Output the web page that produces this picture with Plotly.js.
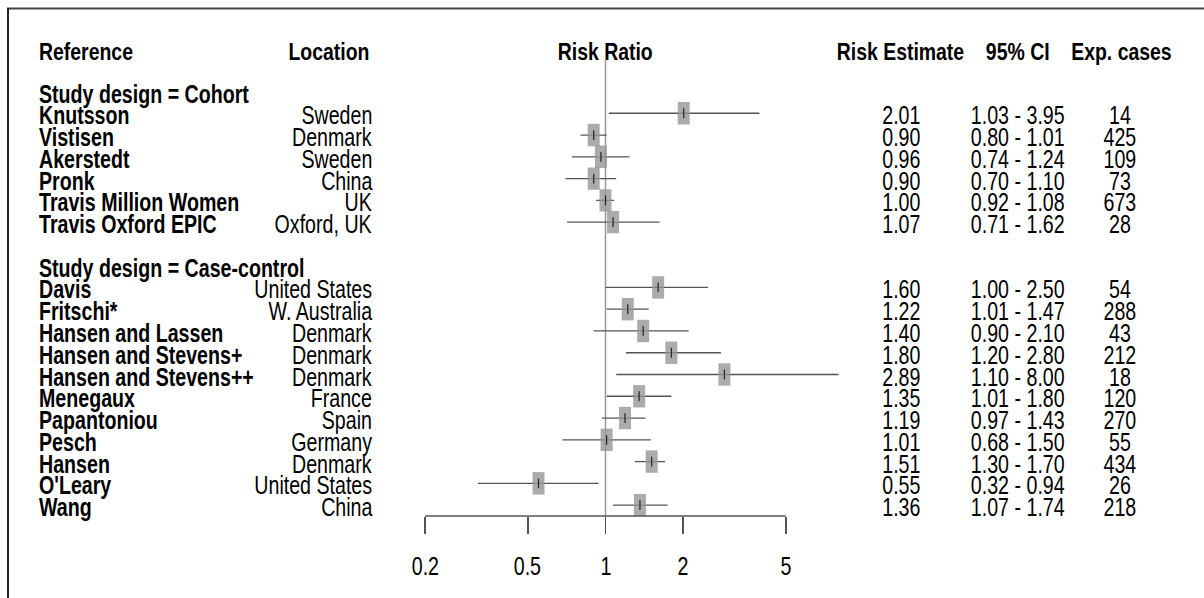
<!DOCTYPE html>
<html>
<head>
<meta charset="utf-8">
<script src="https://cdn.plot.ly/plotly-3.0.1.min.js"></script>
<style>
  html, body { margin: 0; padding: 0; background: #ffffff; }
  #chart { width: 1204px; height: 598px; }
</style>
</head>
<body>
<div id="chart"></div>
<script>
// ---------------- data ----------------
const groupNames = ["Cohort", "Case-control"];
const references = ["Knutsson", "Vistisen", "Akerstedt", "Pronk", "Travis Million Women", "Travis Oxford EPIC",
  "Davis", "Fritschi*", "Hansen and Lassen", "Hansen and Stevens+", "Hansen and Stevens++", "Menegaux",
  "Papantoniou", "Pesch", "Hansen", "O'Leary", "Wang"];
const designs = ["Cohort", "Cohort", "Cohort", "Cohort", "Cohort", "Cohort",
  "Case-control", "Case-control", "Case-control", "Case-control", "Case-control", "Case-control",
  "Case-control", "Case-control", "Case-control", "Case-control", "Case-control"];
const locations = ["Sweden", "Denmark", "Sweden", "China", "UK", "Oxford, UK",
  "United States", "W. Australia", "Denmark", "Denmark", "Denmark", "France",
  "Spain", "Germany", "Denmark", "United States", "China"];
const riskRatio = [2.01, 0.90, 0.96, 0.90, 1.00, 1.07, 1.60, 1.22, 1.40, 1.80, 2.89, 1.35, 1.19, 1.01, 1.51, 0.55, 1.36];
const ciLower   = [1.03, 0.80, 0.74, 0.70, 0.92, 0.71, 1.00, 1.01, 0.90, 1.20, 1.10, 1.01, 0.97, 0.68, 1.30, 0.32, 1.07];
const ciUpper   = [3.95, 1.01, 1.24, 1.10, 1.08, 1.62, 2.50, 1.47, 2.10, 2.80, 8.00, 1.80, 1.43, 1.50, 1.70, 0.94, 1.74];
const expCases  = [14, 425, 109, 73, 673, 28, 54, 288, 43, 212, 18, 120, 270, 55, 434, 26, 218];
const tickValues = [0.2, 0.5, 1, 2, 5];
const tickLabels = ["0.2", "0.5", "1", "2", "5"];
const columnHeaders = ["Reference", "Location", "Risk Ratio", "Risk Estimate", "95% CI", "Exp. cases"];

// ---------------- row layout ----------------
const W = 1204, H = 598;
const px = v => v / W;            // horizontal pixel -> paper
const py = v => 1 - v / H;        // vertical pixel -> paper
const FONT = "'Liberation Sans', Arial, sans-serif";
const BODY = { size: 25, squeeze: 0.785 };
const HEAD = { size: 23, squeeze: 0.845 };

const studyRow = [];
const headerRows = [];
let r = 0;
groupNames.forEach(g => {
  headerRows.push({ name: g, row: r });
  r++;
  designs.forEach((d, i) => { if (d === g) { studyRow[i] = r; r++; } });
  r++; // blank row
});

// ---------------- traces ----------------
const ciX = [], ciY = [];
riskRatio.forEach((v, i) => { ciX.push(ciLower[i], ciUpper[i], null); ciY.push(studyRow[i], studyRow[i], null); });

const traces = [
  { type: "scatter", mode: "lines", x: ciX, y: ciY, hoverinfo: "skip",
    line: { color: "#555555", width: 1.3 }, showlegend: false },
  { type: "scatter", mode: "markers", x: riskRatio, y: studyRow, hoverinfo: "skip",
    marker: { symbol: "line-ns-open", size: 16, color: "rgba(150,150,150,0.8)", line: { width: 12 } }, showlegend: false },
  { type: "scatter", mode: "markers", x: riskRatio, y: studyRow, hoverinfo: "skip",
    marker: { symbol: "line-ns-open", size: 7, color: "#222222", line: { width: 1.2 } }, showlegend: false }
];

// ---------------- annotations ----------------
const ann = [];
const squeezes = [];
function addText(text, x, anchor, y, bold, style, xref, yref, yshift) {
  ann.push({ xref: xref, yref: yref, x: x, y: y, xanchor: anchor, align: anchor, yanchor: "middle",
    text: bold ? "<b>" + text + "</b>" : text, showarrow: false, yshift: yshift,
    font: { family: FONT, size: style.size, color: "#000000" } });
  squeezes.push(style.squeeze);
}
const headerY = py(52);
addText(columnHeaders[0], px(37), "left", headerY, true, HEAD, "paper", "paper", 0);
addText(columnHeaders[1], px(329), "center", headerY, true, HEAD, "paper", "paper", 0);
addText(columnHeaders[2], px(605), "center", headerY, true, HEAD, "paper", "paper", 0);
addText(columnHeaders[3], px(900), "center", headerY, true, HEAD, "paper", "paper", 0);
addText(columnHeaders[4], px(1017), "center", headerY, true, HEAD, "paper", "paper", 0);
addText(columnHeaders[5], px(1121), "center", headerY, true, HEAD, "paper", "paper", 0);

const rowShift = -2;
headerRows.forEach(h => addText("Study design = " + h.name, px(37), "left", h.row, true, BODY, "paper", "y", rowShift));
references.forEach((name, i) => {
  addText(name, px(37), "left", studyRow[i], true, BODY, "paper", "y", rowShift);
  addText(locations[i], px(374), "right", studyRow[i], false, BODY, "paper", "y", rowShift);
  addText(riskRatio[i].toFixed(2), px(901), "center", studyRow[i], false, BODY, "paper", "y", rowShift);
  addText(ciLower[i].toFixed(2) + " - " + ciUpper[i].toFixed(2), px(1018), "center", studyRow[i], false, BODY, "paper", "y", rowShift);
  addText(String(expCases[i]), px(1120), "center", studyRow[i], false, BODY, "paper", "y", rowShift);
});
// tick labels of the log axis, placed through the x scale (log axes take log10 positions)
tickValues.forEach((v, i) => addText(tickLabels[i], Math.log10(v), "center", py(566), false, BODY, "x", "paper", 0));

// ---------------- layout ----------------
const yBottomPix = 516, yTopPix = 60;
const layout = {
  width: W, height: H,
  margin: { l: 0, r: 0, t: 0, b: 0 },
  paper_bgcolor: "#ffffff", plot_bgcolor: "rgba(0,0,0,0)",
  showlegend: false,
  xaxis: {
    type: "log", range: [-1, 1], domain: [px(347.5), px(863.5)],
    showgrid: false, zeroline: false, showline: false,
    tickmode: "array", tickvals: tickValues, showticklabels: false,
    ticks: "outside", ticklen: 17, tickwidth: 1.5, tickcolor: "#555555", fixedrange: true
  },
  yaxis: {
    range: [19.5, -1.447], domain: [py(yBottomPix), py(yTopPix)],
    showgrid: false, zeroline: false, showline: false, showticklabels: false, ticks: "", fixedrange: true
  },
  shapes: [
    { type: "line", xref: "x", yref: "paper", x0: 1, x1: 1, y0: py(yBottomPix), y1: py(yTopPix),
      line: { color: "#999999", width: 1.5 }, layer: "below" },
    { type: "line", xref: "x", yref: "paper", x0: tickValues[0], x1: tickValues[tickValues.length - 1],
      y0: py(yBottomPix), y1: py(yBottomPix), line: { color: "#555555", width: 1.5 } },
    { type: "line", xref: "paper", yref: "paper", x0: px(7), x1: 1, y0: py(8.5), y1: py(8.5),
      line: { color: "#444444", width: 2 } },
    { type: "line", xref: "paper", yref: "paper", x0: px(8), x1: px(8), y0: 0, y1: py(8),
      line: { color: "#222222", width: 2 } }
  ],
  annotations: ann
};

function squeezeText() {
  document.querySelectorAll("#chart g.annotation").forEach(g => {
    const idx = +g.getAttribute("data-index");
    const t = g.querySelector(".annotation-text");
    if (!t) return;
    const a = t.getAttribute("text-anchor") || "middle";
    t.style.transformBox = "fill-box";
    t.style.transformOrigin = a === "start" ? "left center" : (a === "end" ? "right center" : "center center");
    t.style.transform = "scaleX(" + (squeezes[idx] || 1) + ")";
  });
}

Plotly.newPlot("chart", traces, layout, { staticPlot: true, displayModeBar: false }).then(squeezeText);
</script>
</body>
</html>
